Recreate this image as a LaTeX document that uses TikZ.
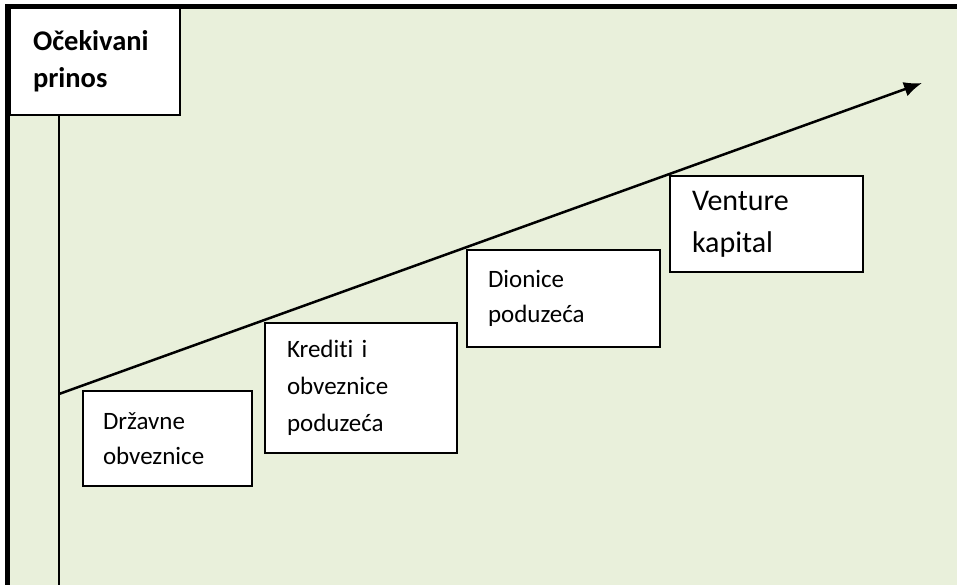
\documentclass[tikz,border=0pt]{standalone}
\usepackage{fontspec}
\setmainfont{Carlito}[Ligatures={NoCommon}]
\usetikzlibrary{arrows.meta}
\definecolor{bggreen}{RGB}{233,240,219}
\tikzset{
  assetbox/.style={draw=black, line width=1.4pt, fill=white, inner xsep=0pt, inner ysep=0pt,
     align=left, font={\fontsize{25}{35.5}\selectfont}},
  axisline/.style={line width=2pt, draw=black},
}
\begin{document}
\begin{tikzpicture}[x=1pt,y=-1pt]
\useasboundingbox (0,0) rectangle (957,585);
\fill[white] (0,0) rectangle (957,585);
\fill[bggreen] (7.5,6.5) rectangle (957,585);
\draw[line width=4.5pt] (7.5,585) -- (7.5,6.5) -- (957,6.5);
% label box
\node[draw=black, line width=1.4pt, fill=white, inner xsep=0pt, inner ysep=0pt, align=left,
  minimum width=170pt, minimum height=107pt, text width=124pt,
  font={\bfseries\fontsize{28.5}{37}\selectfont}] (ylabel) at (95,61.5) {Očekivani\\prinos};
% axes
\coordinate (origin) at (59,394);
\coordinate (tip) at (922,83);
\coordinate (axisbot) at (59,585);
\draw[axisline] (ylabel.south -| origin) -- (axisbot);
\draw[axisline, line width=2.5pt, -{Latex[length=18pt,width=15pt]}] (origin) -- (tip);
% boxes
\node[assetbox, minimum width=169pt, minimum height=95pt, text width=129pt] (drz) at (167.5,438.5) {Državne\\obveznice};
\node[assetbox, minimum width=192pt, minimum height=130pt, text width=148pt, font={\fontsize{25}{37}\selectfont}] (kred) at (361,388) {Krediti i\\obveznice\\poduzeća};
\node[assetbox, minimum width=193pt, minimum height=97pt, text width=151pt] (dion) at (563.5,298.5) {Dionice\\poduzeća};
\node[assetbox, minimum width=193pt, minimum height=96pt, text width=149pt, font={\fontsize{30}{42}\selectfont}] (vent) at (766.5,224) {Venture\\kapital};
\end{tikzpicture}
\end{document}
